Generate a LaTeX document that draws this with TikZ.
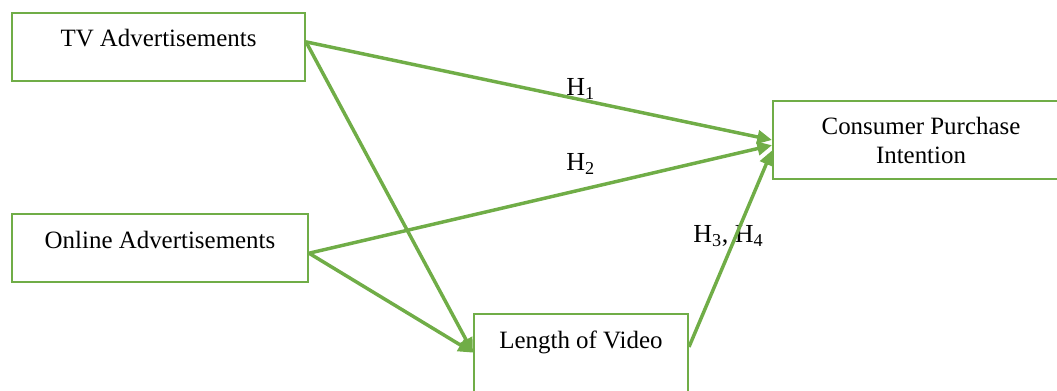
\documentclass[tikz,border=0pt]{standalone}
\usepackage{fontspec}
\setmainfont{Liberation Serif}
\usepackage{tikz}
\usetikzlibrary{arrows.meta}
\definecolor{wordgreen}{RGB}{112,173,71}

\begin{document}
\begin{tikzpicture}[x=0.75pt,y=0.75pt,yscale=-1,xscale=1,
  varbox/.style={draw=wordgreen,line width=1.5pt,fill=white,inner sep=0pt,anchor=north west,align=center,
    font=\fontsize{18.7}{21.75}\selectfont},
  hyplabel/.style={anchor=base west,inner sep=0pt,font=\fontsize{19.5}{22}\selectfont},
  path/.style={draw=wordgreen,line width=2.6pt,-{Triangle[length=11pt,width=10pt]}}]
\useasboundingbox (0,0) rectangle (1057,390);
\clip (0,0) rectangle (1057,390);

%Shape: Rectangle [TV]
\node [varbox,minimum width=219.75pt,text height=24.75pt,text depth=26.25pt] (tv) at (11,12) {TV Advertisements};
%Shape: Rectangle [Online]
\node [varbox,minimum width=222pt,text height=25.5pt,text depth=25.5pt] (online) at (11,213) {Online Advertisements};
%Shape: Rectangle [Video]
\node [varbox,minimum width=160.5pt,text height=25.5pt,text depth=49.5pt] (video) at (473,313) {Length of Video};
%Shape: Rectangle [Intention]
\node [varbox,minimum width=222pt,minimum height=58.5pt] (intention) at (772,100) {Consumer Purchase\\Intention};

% Text Node
\node [hyplabel] (h1) at (566,95) {H\textsubscript{1}};
% Text Node
\node [hyplabel] (h2) at (566,170) {H\textsubscript{2}};
% Text Node
\node [hyplabel] (h34) at (693,242) {H\textsubscript{3}, H\textsubscript{4}};

%Straight Lines [arrows]
\draw [path] (tv.2) -- (intention.west);
\draw [path] (online.358) -- (intention.182);
\draw [path] (tv.2) -- (video.174);
\draw [path] (online.358) -- (video.174);
\draw [path] (video.9) -- (intention.184);

\end{tikzpicture}
\end{document}
